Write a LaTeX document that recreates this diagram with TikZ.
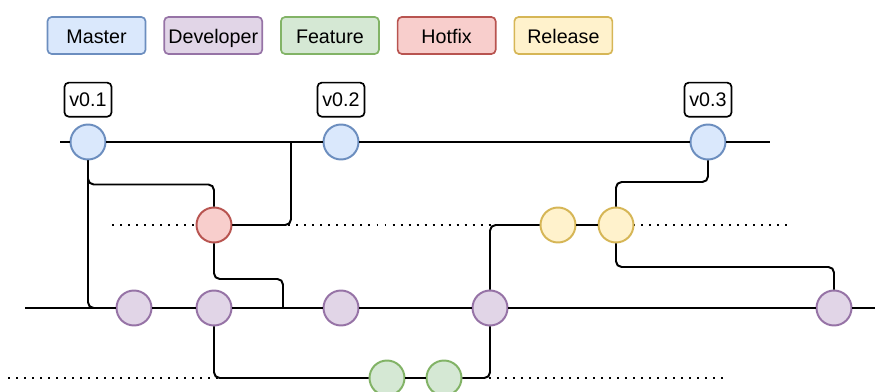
\documentclass[tikz,border=0pt]{standalone}
\usepackage{fontspec}
\setmainfont{Liberation Sans}
\usetikzlibrary{positioning}

\definecolor{masterfill}{HTML}{DAE8FC}\definecolor{masterline}{HTML}{6C8EBF}
\definecolor{devfill}{HTML}{E1D5E7}\definecolor{devline}{HTML}{9673A6}
\definecolor{featfill}{HTML}{D5E8D4}\definecolor{featline}{HTML}{82B366}
\definecolor{hotfill}{HTML}{F8CECC}\definecolor{hotline}{HTML}{B85450}
\definecolor{relfill}{HTML}{FFF2CC}\definecolor{relline}{HTML}{D6B656}

\begin{document}
\begin{tikzpicture}[x=0.025cm,y=-0.025cm,
	commit/.style={circle,draw,line width=1.4pt,minimum size=0.875cm,inner sep=0pt},
	legend/.style={draw,rounded corners=3pt,line width=1.2pt,minimum width=2.45cm,minimum height=0.925cm,inner sep=1pt,text height=12pt,text depth=0pt,font=\fontsize{14}{16}\selectfont},
	tag/.style={draw,rounded corners=3pt,line width=1.2pt,minimum width=1.175cm,minimum height=0.85cm,inner sep=1pt,font=\fontsize{14}{16}\selectfont},
	branch/.style={line width=1.4pt,rounded corners=4pt},
	future/.style={line width=1.4pt,dash pattern=on 1.4pt off 4.3pt}]

		\clip (0,0) rectangle (875,392);

		% 凡例
		\node[legend,fill=masterfill,draw=masterline] (lmaster) at (96.5,35.5) {Master};
		\node[legend,fill=devfill,draw=devline,right=0.425cm of lmaster] (ldev) {Developer};
		\node[legend,fill=featfill,draw=featline,right=0.425cm of ldev] (lfeat) {Feature};
		\node[legend,fill=hotfill,draw=hotline,right=0.425cm of lfeat] (lhot) {Hotfix};
		\node[legend,fill=relfill,draw=relline,right=0.425cm of lhot] (lrel) {Release};

		% 点線 (hotfix/release, feature)
		\coordinate (hl) at (112,225); \coordinate (hr) at (793,225);
		\coordinate (fl) at (8,378); \coordinate (fr) at (727,378);
		\draw[future] (hl) -- (hr);
		\draw[future] (fl) -- (fr);

		% master
		\node[commit,fill=masterfill,draw=masterline] (M1) at (88,142) {};
		\node[commit,fill=masterfill,draw=masterline] (M2) at (341,142) {};
		\node[commit,fill=masterfill,draw=masterline] (M3) at (708,142) {};
		\node[tag,above=0.15cm of M1] (v1) {v0.1};
		\node[tag,above=0.15cm of M2] (v2) {v0.2};
		\node[tag,above=0.15cm of M3] (v3) {v0.3};

		% hotfix, release
		\node[commit,fill=hotfill,draw=hotline] (H) at (214,225) {};
		\node[commit,fill=relfill,draw=relline] (R1) at (558,225) {};
		\node[commit,fill=relfill,draw=relline] (R2) at (616,225) {};

		% developer
		\node[commit,fill=devfill,draw=devline] (D1) at (134,308) {};
		\node[commit,fill=devfill,draw=devline] (D2) at (214,308) {};
		\node[commit,fill=devfill,draw=devline] (D3) at (341,308) {};
		\node[commit,fill=devfill,draw=devline] (D4) at (490,308) {};
		\node[commit,fill=devfill,draw=devline] (D5) at (834,308) {};

		% feature
		\node[commit,fill=featfill,draw=featline] (F1) at (387,378) {};
		\node[commit,fill=featfill,draw=featline] (F2) at (444,378) {};

		% 枝
		\coordinate (ml) at (60,142); \coordinate (mr) at (770,142);
		\coordinate (mj) at (291,142);
		\coordinate (dl) at (25,308); \coordinate (dr) at (875,308);
		\coordinate (dj) at (283,308);
		\draw[branch] (ml) -- (M1) -- (M2) -- (M3) -- (mr); %master
		\draw[branch] (dl) -- (D1) -- (D2) -- (D3) -- (D4) -- (D5) -- (dr); %developer
		\draw[branch] (M1.south) -- ++(0,24) -| (H.north);
		\draw[branch] (H.east) -| (mj);
		\draw[branch] (M1.south) |- (D1.west);
		\draw[branch] (H.south) -- ++(0,35.5) -| (dj);
		\draw[branch] (D2.south) |- (F1.west);
		\draw[branch] (F1) -- (F2);
		\draw[branch] (F2.east) -| (D4.south);
		\draw[branch] (D4.north) |- (R1.west);
		\draw[branch] (R1) -- (R2);
		\draw[branch] (R2.north) -- ++(0,-24.5) -| (M3.south);
		\draw[branch] (R2.south) -- ++(0,23.5) -| (D5.north);
	\end{tikzpicture}
\end{document}
